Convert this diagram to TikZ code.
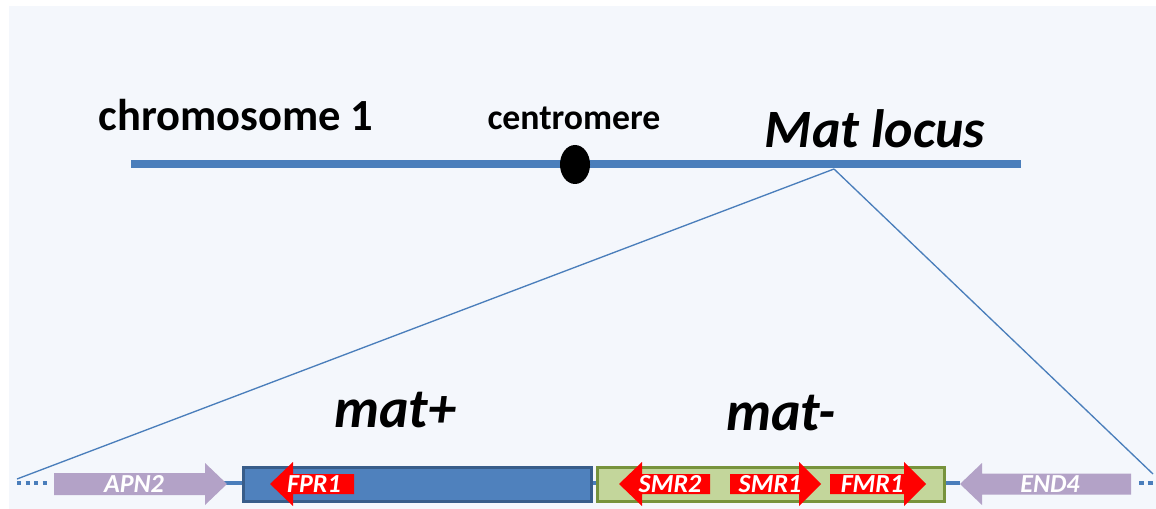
\documentclass[tikz,border=0pt]{standalone}
\usepackage{fontspec}
\setmainfont{Carlito}
\usetikzlibrary{shapes.geometric}
\definecolor{bgblue}{HTML}{F4F7FC}
\definecolor{chrblue}{HTML}{4A7EBB}
\definecolor{plusfill}{HTML}{4F81BD}
\definecolor{plusdraw}{HTML}{385D8A}
\definecolor{minusfill}{HTML}{C3D69B}
\definecolor{minusdraw}{HTML}{77933C}
\definecolor{flank}{HTML}{B3A2C7}
\tikzset{
  chrline/.style={chrblue, line width=6pt},
  dnaline/.style={chrblue, line width=3pt},
  zoomline/.style={chrblue, line width=1pt},
  genelabel/.style={white, font=\bfseries\itshape\fontsize{19.5}{22}\selectfont},
  biglabel/.style={anchor=base, font=\bfseries\itshape\fontsize{42}{48}\selectfont}
}
\begin{document}
\begin{tikzpicture}[x=0.75pt, y=-0.75pt, every node/.style={inner sep=0pt, outer sep=0pt}]
  \useasboundingbox (0,0) rectangle (1156,509);
  \fill[bgblue] (9,6) rectangle (1156,509);
  % chromosome
  \draw[chrline] (131,164.5) -- (1021,164.5);
  \node[ellipse, fill=black, minimum width=22.5pt, minimum height=29.25pt] (cen) at (575,164.5) {};
  \node[anchor=base, font=\bfseries\fontsize{33.4}{40}\selectfont] (chrlabel) at (236,131) {chromosome 1};
  \node[anchor=base, font=\bfseries\fontsize{26.8}{32}\selectfont] (cenlabel) at (574,130) {centromere};
  \node[biglabel, font=\bfseries\itshape\fontsize{40.5}{48}\selectfont] (matlabel) at (875,148) {Mat locus};
  % zoom onto the locus
  \coordinate (locus) at (834,169);
  \coordinate (zoomL) at (17,479);
  \coordinate (zoomR) at (1153,474);
  \draw[zoomline] (locus) -- (zoomL);
  \draw[zoomline] (locus) -- (zoomR);
  % locus line
  \draw[dnaline] (54,483) -- (960,483);
  \draw[dnaline, dash pattern=on 3pt off 3.4pt] (17,483) -- (50,483);
  \draw[dnaline, dash pattern=on 3.6pt off 3pt] (1139,483) -- (1153,483);
  % idiomorphs
  \draw[fill=plusfill, draw=plusdraw, line width=2.25pt] (243.5,467.5) rectangle (591.5,501.5);
  \draw[fill=minusfill, draw=minusdraw, line width=2.25pt] (597.5,467.5) rectangle (944.5,501.5);
  \node[biglabel] (matplus) at (395,427) {mat+};
  \node[biglabel] (matminus) at (781,431) {mat-};
  % flanking genes
  \fill[flank] (54,473) -- (205,473) -- (205,463) -- (227,484) -- (205,505) -- (205,495) -- (54,495) -- cycle;
  \fill[flank] (1131,473.5) -- (982,473.5) -- (982,463) -- (960,484) -- (982,505) -- (982,494.5) -- (1131,494.5) -- cycle;
  % mat genes
  \fill[red] (354,474) -- (293,474) -- (293,462) -- (270,484) -- (293,506) -- (293,494) -- (354,494) -- cycle;
  \fill[red] (710,474) -- (642,474) -- (642,462) -- (619,484) -- (642,506) -- (642,494) -- (710,494) -- cycle;
  \fill[red] (730,474) -- (799,474) -- (799,462) -- (821,484) -- (799,506) -- (799,494) -- (730,494) -- cycle;
  \fill[red] (830,474) -- (904,474) -- (904,462) -- (926,484) -- (904,506) -- (904,494) -- (830,494) -- cycle;
  \node[genelabel] (apn2) at (134,484) {APN2};
  \node[genelabel] (fpr1) at (314,484) {FPR1};
  \node[genelabel] (smr2) at (670,484) {SMR2};
  \node[genelabel] (smr1) at (770,484) {SMR1};
  \node[genelabel] (fmr1) at (872,484) {FMR1};
  \node[genelabel] (end4) at (1050,484) {END4};
\end{tikzpicture}
\end{document}
